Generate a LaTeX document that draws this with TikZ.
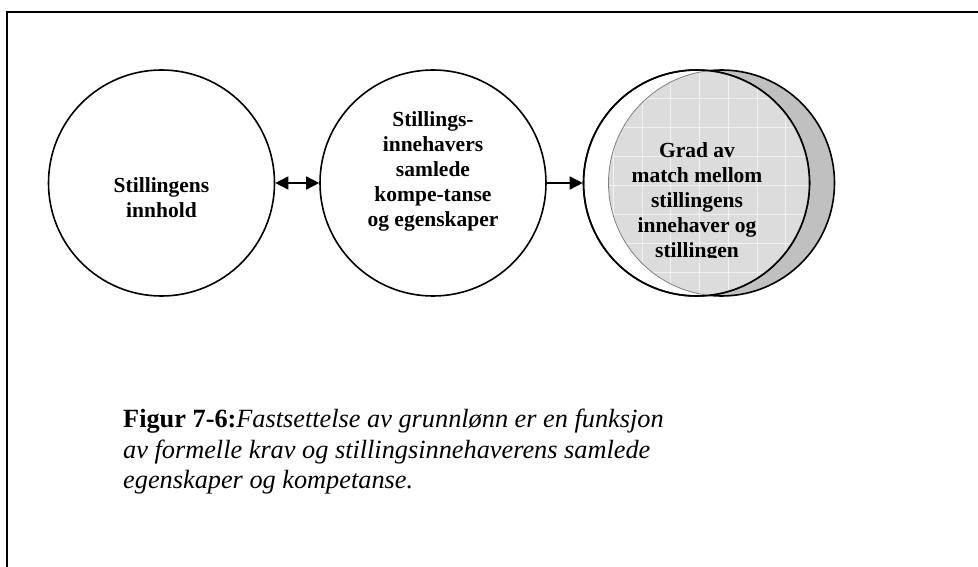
\documentclass[tikz,border=0pt]{standalone}
\usepackage{fontspec}
\setmainfont{Liberation Serif}
\usetikzlibrary{arrows.meta}
\definecolor{shadegray}{HTML}{C0C0C0}
\definecolor{overlapgray}{HTML}{DCDCDC}
\begin{document}
\begin{tikzpicture}[x=1pt,y=-1pt,
  ring/.style={circle,draw=black,line width=1.6pt,minimum size=226pt,inner sep=0pt},
  label/.style={font=\fontsize{21.5}{25}\selectfont\bfseries,align=center,inner sep=0pt},
  tip/.tip={Triangle[length=13pt 0,width=13pt 0]},
  link/.style={line width=1.5pt,tip-tip},
  flow/.style={line width=1.5pt,-tip}]
\useasboundingbox (0,0) rectangle (978,567);
\fill[white] (0,0) rectangle (978,567);

% open frame: top and left edges
\draw[line width=2.2pt,line cap=rect] (978,12) -- (7,12) -- (7,567);

% first two circles
\node[ring] (c1) at (161.5,183) {};
\node[label] (t1) at (161.5,197.5) {Stillingens\\innhold};
\node[ring] (c2) at (433,183) {};
\node[label] (t2) at (433,171.7) {Stillings-\\innehavers\\samlede\\kompe-tanse\\og egenskaper};

% third circle: shaded back disc, white front disc, patterned overlap
\node[ring,fill=shadegray] (c3b) at (721.5,183) {};
\node[ring,fill=white] (c3f) at (696.5,183) {};
\begin{scope}
  \clip (696.5,183) circle (113pt);
  \fill[overlapgray] (721.5,183) circle (113pt);
  \begin{scope}
    \clip (721.5,183) circle (113pt);
    \foreach \gx in {584,613,642,670,699,728,757,785} {
      \draw[white,opacity=0.6,line width=0.5pt] (\gx,60) -- (\gx,300);
    }
    \foreach \gy in {70,98,127,156,185,214,243,272} {
      \draw[white,opacity=0.6,line width=0.5pt] (580,\gy) -- (840,\gy);
    }
  \end{scope}
  \draw[gray,line width=0.8pt] (721.5,183) circle (113pt);
\end{scope}
\draw[line width=1.6pt] (c3f.center) circle (113pt);
\begin{scope}
  \clip (580,60) rectangle (820,257);
  \node[label] (t3) at (697,202.5) {Grad av\\match mellom\\stillingens\\innehaver og\\stillingen};
\end{scope}

% connectors
\draw[link] (c1) -- (c2);
\draw[flow] (c2) -- (c3f);

% caption
\node[anchor=north west,align=left,inner sep=0pt,
      font=\fontsize{26.3}{30.6}\selectfont] (cap) at (123,409)
  {\textbf{Figur 7-6:}\textit{Fastsettelse av grunnlønn er en funksjon}\\
   \textit{av formelle krav og stillingsinnehaverens samlede}\\
   \textit{egenskaper og kompetanse.}};
\end{tikzpicture}
\end{document}
